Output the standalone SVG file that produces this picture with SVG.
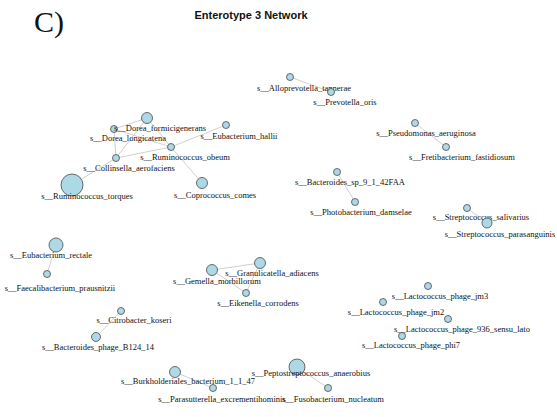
<svg xmlns="http://www.w3.org/2000/svg" width="557" height="417" viewBox="0 0 557 417">
<style>
.n{fill:#add8e6;stroke:#4a4a4a;stroke-width:0.8}
.l{font-family:"Liberation Serif",serif;font-size:8.5px;fill:#111;text-anchor:middle}
.e line{stroke:#c4c4c4;stroke-width:0.8}
</style>
<rect width="557" height="417" fill="#fff"/>
<text x="34" y="32" font-family="Liberation Serif,serif" font-size="30" fill="#111">C)</text>
<text x="251" y="19" font-family="Liberation Sans,Arial,sans-serif" font-size="11" font-weight="bold" fill="#111" text-anchor="middle">Enterotype 3 Network</text>
<g id="connectors" class="e">
<line x1="147" y1="118" x2="114" y2="129"/>
<line x1="147" y1="118" x2="171" y2="147"/>
<line x1="147" y1="118" x2="116" y2="158"/>
<line x1="114" y1="129" x2="171" y2="147"/>
<line x1="114" y1="129" x2="116" y2="158"/>
<line x1="116" y1="158" x2="171" y2="147"/>
<line x1="171" y1="147" x2="226" y2="125"/>
<line x1="116" y1="158" x2="72" y2="185"/>
<line x1="171" y1="147" x2="202" y2="183"/>
<line x1="290" y1="77" x2="331" y2="92"/>
<line x1="415" y1="123" x2="446" y2="147"/>
<line x1="337" y1="172" x2="355" y2="202"/>
<line x1="467" y1="208" x2="487" y2="223"/>
<line x1="56" y1="245" x2="47" y2="274"/>
<line x1="121" y1="311" x2="96" y2="337"/>
<line x1="212" y1="270" x2="260" y2="263"/>
<line x1="212" y1="270" x2="246" y2="293"/>
<line x1="260" y1="263" x2="246" y2="293"/>
<line x1="175" y1="372" x2="213" y2="388"/>
<line x1="297" y1="367" x2="328" y2="388"/>
</g>
<g id="Ruminococcus_torques"><circle class="n" cx="72" cy="185" r="11"/><text class="l" x="87" y="199">s__Ruminococcus_torques</text></g>
<g id="Collinsella_aerofaciens"><circle class="n" cx="116" cy="158" r="3.5"/><text class="l" x="129" y="171">s__Collinsella_aerofaciens</text></g>
<g id="Dorea_longicatena"><circle class="n" cx="114" cy="129" r="3.5"/><text class="l" x="128" y="141">s__Dorea_longicatena</text></g>
<g id="Dorea_formicigenerans"><circle class="n" cx="147" cy="118" r="5.5"/><text class="l" x="160" y="131">s__Dorea_formicigenerans</text></g>
<g id="Ruminococcus_obeum"><circle class="n" cx="171" cy="147" r="3.5"/><text class="l" x="185" y="160">s__Ruminococcus_obeum</text></g>
<g id="Eubacterium_hallii"><circle class="n" cx="226" cy="125" r="3.5"/><text class="l" x="239" y="139">s__Eubacterium_hallii</text></g>
<g id="Coprococcus_comes"><circle class="n" cx="202" cy="183" r="5.5"/><text class="l" x="215" y="198">s__Coprococcus_comes</text></g>
<g id="Alloprevotella_tannerae"><circle class="n" cx="290" cy="77" r="3.5"/><text class="l" x="304" y="91">s__Alloprevotella_tannerae</text></g>
<g id="Prevotella_oris"><circle class="n" cx="331" cy="92" r="3.5"/><text class="l" x="345" y="105">s__Prevotella_oris</text></g>
<g id="Pseudomonas_aeruginosa"><circle class="n" cx="415" cy="123" r="3.5"/><text class="l" x="426" y="136">s__Pseudomonas_aeruginosa</text></g>
<g id="Fretibacterium_fastidiosum"><circle class="n" cx="446" cy="147" r="3.5"/><text class="l" x="462" y="160">s__Fretibacterium_fastidiosum</text></g>
<g id="Bacteroides_sp_9_1_42FAA"><circle class="n" cx="337" cy="172" r="3.5"/><text class="l" x="350" y="185">s__Bacteroides_sp_9_1_42FAA</text></g>
<g id="Photobacterium_damselae"><circle class="n" cx="355" cy="202" r="3.5"/><text class="l" x="361" y="215">s__Photobacterium_damselae</text></g>
<g id="Streptococcus_salivarius"><circle class="n" cx="467" cy="208" r="3.5"/><text class="l" x="481" y="220">s__Streptococcus_salivarius</text></g>
<g id="Streptococcus_parasanguinis"><circle class="n" cx="487" cy="223" r="5"/><text class="l" x="500" y="237">s__Streptococcus_parasanguinis</text></g>
<g id="Eubacterium_rectale"><circle class="n" cx="56" cy="245" r="7"/><text class="l" x="51" y="258">s__Eubacterium_rectale</text></g>
<g id="Faecalibacterium_prausnitzii"><circle class="n" cx="47" cy="274" r="3.5"/><text class="l" x="60" y="291">s__Faecalibacterium_prausnitzii</text></g>
<g id="Citrobacter_koseri"><circle class="n" cx="121" cy="311" r="3.5"/><text class="l" x="134" y="323">s__Citrobacter_koseri</text></g>
<g id="Bacteroides_phage_B124_14"><circle class="n" cx="96" cy="337" r="4.5"/><text class="l" x="98" y="350">s__Bacteroides_phage_B124_14</text></g>
<g id="Gemella_morbillorum"><circle class="n" cx="212" cy="270" r="5.5"/><text class="l" x="217" y="284">s__Gemella_morbillorum</text></g>
<g id="Granulicatella_adiacens"><circle class="n" cx="260" cy="263" r="5.5"/><text class="l" x="272" y="276">s__Granulicatella_adiacens</text></g>
<g id="Eikenella_corrodens"><circle class="n" cx="246" cy="293" r="3.5"/><text class="l" x="258" y="306">s__Eikenella_corrodens</text></g>
<g id="Lactococcus_phage_jm3"><circle class="n" cx="428" cy="286" r="3.5"/><text class="l" x="440" y="299">s__Lactococcus_phage_jm3</text></g>
<g id="Lactococcus_phage_jm2"><circle class="n" cx="383" cy="302" r="3.5"/><text class="l" x="396" y="315">s__Lactococcus_phage_jm2</text></g>
<g id="Lactococcus_phage_936_sensu_lato"><circle class="n" cx="448" cy="319" r="3.5"/><text class="l" x="462" y="332">s__Lactococcus_phage_936_sensu_lato</text></g>
<g id="Lactococcus_phage_phi7"><circle class="n" cx="402" cy="336" r="3.5"/><text class="l" x="411" y="348">s__Lactococcus_phage_phi7</text></g>
<g id="Burkholderiales_bacterium_1_1_47"><circle class="n" cx="175" cy="372" r="5.5"/><text class="l" x="188" y="384">s__Burkholderiales_bacterium_1_1_47</text></g>
<g id="Parasutterella_excrementihominis"><circle class="n" cx="213" cy="388" r="3.5"/><text class="l" x="222" y="402">s__Parasutterella_excrementihominis</text></g>
<g id="Peptostreptococcus_anaerobius"><circle class="n" cx="297" cy="367" r="8"/><text class="l" x="311" y="376">s__Peptostreptococcus_anaerobius</text></g>
<g id="Fusobacterium_nucleatum"><circle class="n" cx="328" cy="388" r="3.5"/><text class="l" x="333" y="402">s__Fusobacterium_nucleatum</text></g>
</svg>
